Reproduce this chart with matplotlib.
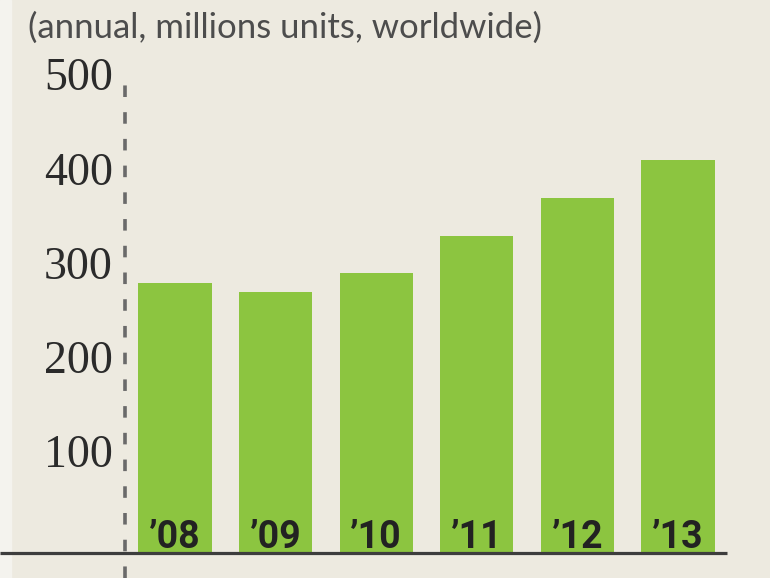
import matplotlib
matplotlib.use("Agg")
import matplotlib.pyplot as plt

# data
years = ["\u201908", "\u201909", "\u201910", "\u201911", "\u201912", "\u201913"]
shipments = [287, 277, 297, 337, 377, 417]
yticks = [100, 200, 300, 400, 500]
subtitle = "(annual, millions units, worldwide)"

BG = "#edeae0"
GREEN = "#8cc540"

W, H = 770, 578
fig = plt.figure(figsize=(W / 100, H / 100), dpi=100, facecolor=BG)
ax = fig.add_axes([0, 0, 1, 1])
ax.set_facecolor(BG)

# pixel <-> data mapping: bar i centred at 175 + 100.6*i px, value 0 at y=553 px
x0, dx = 175.0, 100.6
y0, dy = 553.0, 0.942
ax.set_xlim((0 - x0) / dx, (W - x0) / dx)
ax.set_ylim((y0 - H) / dy, y0 / dy)
ax.axis("off")

def px_x(p):
    return (p - x0) / dx

# lighter strip at the left edge
ax.axvspan(px_x(0), px_x(11), color="#f4f3ee", zorder=0)

xs = list(range(len(years)))
ax.bar(xs, shipments, width=0.726, color=GREEN, zorder=2)

# baseline and dashed axis
ax.plot([px_x(0), px_x(727)], [0, 0], color="#3d3d3d", lw=2.3, zorder=3,
        solid_capstyle="butt")
ax.plot([px_x(125), px_x(125)], [(y0 - H) / dy, (y0 - 72) / dy],
        color="#6a6a6a", lw=2.6, dashes=(3.2, 4.2), zorder=3)

for v in yticks:
    ax.text(px_x(113), v + 3, str(v), ha="right", va="center",
            family="Liberation Serif", fontsize=33, color="#2b2b2b")

for x, lab in zip(xs, years):
    ax.text(x, 5, lab, ha="center", va="baseline",
            family="Roboto", fontweight="bold", fontsize=27,
            color="#222222", zorder=4)

fig.text(28 / W, 1 - 28 / H, subtitle, ha="left", va="center",
         family="Lato", fontsize=25, color="#4d4d4d")

fig.savefig("out.png", dpi=100, facecolor=BG)
